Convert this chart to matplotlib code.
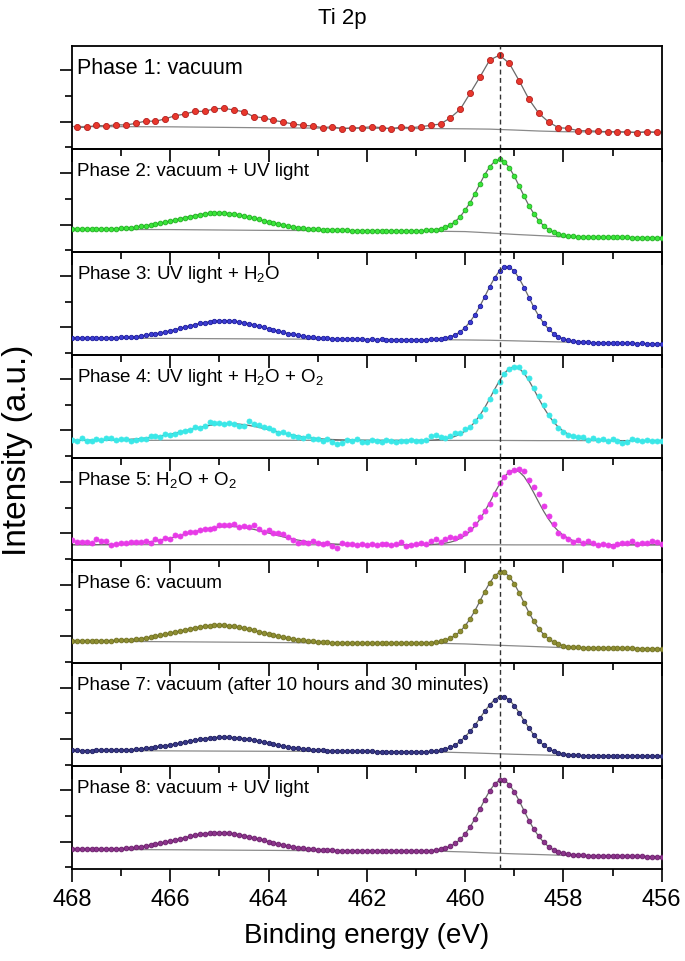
import numpy as np
import matplotlib
matplotlib.use("Agg")
import matplotlib.pyplot as plt
from matplotlib.ticker import MultipleLocator

plt.rcParams['font.family'] = ['Liberation Sans', 'DejaVu Sans']
plt.rcParams['mathtext.default'] = 'regular'

# ---------------- data (intensity in arbitrary units) ----------------
# Phase 1 sampled every 0.2 eV from 467.9 eV; other phases every 0.1 eV from 468.0 eV
P1_START, P1_STEP = 467.9, 0.2
START, STEP = 468.0, 0.1

phase1 = [21.7, 21.7, 23.7, 23.0, 24.3, 24.0, 25.7, 28.0, 27.7, 30.3, 33.3, 35.0, 37.7, 37.7, 40.3,
          40.7, 39.0, 37.3, 32.3, 31.3, 28.7, 27.0, 25.0, 23.7, 23.0, 21.3, 22.3, 20.3, 21.0,
          21.3, 22.3, 21.3, 20.3, 22.0, 21.3, 22.3, 23.7, 25.0, 31.3, 39.7, 55.7, 72.0, 89.0, 94.0,
          85.7, 68.3, 49.7, 35.7, 27.0, 21.3, 20.7, 18.3, 18.3, 17.7, 17.3, 17.3, 17.0, 16.3, 17.3, 16.7]

phase2 = [22.5, 22.5, 22.6, 22.6, 22.7, 22.7, 22.8, 22.9, 23.1, 23.3,
          23.6, 23.9, 24.3, 24.8, 25.4, 26.1, 26.9, 27.7, 28.7, 29.7,
          30.8, 32.0, 33.1, 34.3, 35.3, 36.4, 37.3, 38.0, 38.5, 38.8,
          38.9, 38.8, 38.3, 37.8, 36.9, 36.0, 34.9, 33.7, 32.5, 31.2,
          30.0, 28.9, 27.8, 26.8, 25.8, 25.0, 24.3, 23.7, 23.2, 22.8,
          22.4, 22.1, 21.9, 21.7, 21.6, 21.5, 21.4, 21.3, 21.3, 21.2,
          21.2, 21.2, 21.1, 21.1, 21.1, 21.1, 21.1, 21.0, 21.0, 21.0,
          21.0, 21.2, 21.4, 21.7, 22.2, 23.1, 24.7, 27.0, 30.4, 35.2,
          41.8, 49.2, 58.3, 68.0, 77.4, 85.2, 90.6, 92.5, 90.0, 84.2,
          75.8, 65.9, 55.7, 46.1, 38.1, 31.2, 26.1, 22.3, 19.6, 17.7,
          16.5, 15.9, 15.4, 15.2, 14.8, 14.8, 14.7, 14.7, 14.6, 14.6,
          14.5, 14.5, 14.4, 14.4, 14.3, 14.3, 14.2, 14.2, 14.1, 14.1,
          14.0]

phase3 = [16.7, 16.9, 16.6, 16.5, 16.9, 16.7, 16.6, 17.0, 16.9, 17.2,
          17.3, 17.4, 18.0, 18.2, 18.9, 19.3, 20.3, 20.8, 22.0, 22.8,
          24.2, 25.2, 26.6, 27.7, 29.1, 30.1, 31.4, 32.1, 33.1, 33.5,
          34.1, 34.0, 33.8, 33.6, 32.8, 32.2, 30.9, 30.0, 28.6, 27.6,
          26.0, 24.9, 23.5, 22.4, 21.2, 20.4, 19.4, 18.8, 17.9, 17.6,
          17.0, 16.7, 16.3, 16.2, 15.8, 15.7, 15.5, 15.7, 15.4, 15.4,
          15.2, 15.4, 15.1, 15.3, 15.2, 15.0, 15.2, 15.1, 15.0, 15.2,
          15.0, 15.1, 14.9, 15.4, 15.6, 16.1, 16.8, 18.1, 20.0, 23.0,
          27.2, 33.0, 40.0, 48.5, 58.2, 68.1, 77.0, 84.0, 88.0, 87.9,
          83.6, 76.4, 67.3, 57.3, 47.3, 38.6, 31.5, 25.5, 21.1, 18.0,
          15.9, 14.5, 13.7, 13.1, 12.7, 12.4, 12.0, 12.1, 11.8, 11.9,
          11.6, 11.8, 11.5, 11.4, 11.5, 11.2, 11.3, 11.0, 11.1, 10.9,
          10.8]

phase4 = [17.8, 16.5, 19.6, 17.0, 16.4, 18.6, 17.9, 19.3, 19.5, 17.6,
          19.0, 18.6, 16.8, 17.9, 18.4, 18.9, 21.8, 22.0, 20.9, 23.9,
          22.6, 23.7, 26.0, 26.2, 27.5, 30.4, 29.5, 32.0, 35.2, 34.3,
          34.8, 33.6, 34.5, 33.9, 31.8, 32.1, 36.8, 33.9, 32.7, 30.6,
          29.8, 27.2, 25.0, 25.6, 23.4, 21.3, 20.8, 19.6, 21.2, 18.3,
          18.8, 16.9, 18.2, 15.9, 14.0, 14.9, 17.4, 16.2, 18.5, 15.2,
          15.6, 17.2, 16.8, 15.4, 17.6, 16.9, 15.8, 17.1, 16.6, 17.9,
          16.2, 17.0, 18.1, 21.2, 22.6, 20.3, 19.6, 21.4, 24.5, 24.8,
          28.2, 31.0, 37.0, 41.6, 48.5, 58.2, 66.4, 75.5, 83.2, 88.6,
          90.8, 91.0, 85.6, 79.4, 70.1, 61.8, 52.5, 42.9, 36.2, 30.1,
          25.4, 22.3, 21.6, 20.9, 20.8, 17.6, 19.7, 18.0, 18.5, 17.1,
          18.2, 16.4, 14.3, 15.2, 18.9, 17.6, 16.2, 17.5, 16.4, 16.8,
          16.5]

fit4 = [17.3, 17.3, 17.3, 17.3, 17.3, 17.4, 17.45, 17.5, 17.6, 17.7,
        17.9, 18.1, 18.35, 18.7, 19.1, 19.6, 20.1, 20.8, 21.6, 22.5,
        23.5, 24.5, 25.7, 26.8, 28.0, 29.2, 30.3, 31.3, 32.2, 33.0,
        33.5, 33.9, 34.0, 33.9, 33.5, 33.0, 32.2, 31.3, 30.3, 29.2,
        28.0, 26.8, 25.7, 24.5, 23.5, 22.5, 21.6, 20.8, 20.1, 19.6,
        19.1, 18.7, 18.35, 18.1, 17.9, 17.7, 17.6, 17.5, 17.45, 17.4,
        17.3, 17.3, 17.2, 17.2, 17.2, 17.2, 17.2, 17.2, 17.2, 17.2,
        17.2, 17.2, 17.2, 17.4, 17.7, 18.2, 18.8, 19.8, 21.3, 23.5,
        26.5, 30.5, 35.7, 42.4, 50.1, 59.0, 68.3, 77.1, 84.5, 89.4,
        91.1, 89.3, 84.4, 77.0, 68.2, 58.9, 50.0, 42.3, 35.6, 30.4,
        26.4, 23.4, 21.2, 19.7, 18.7, 18.1, 17.6, 17.3, 17.1, 17.0,
        17.0, 17.0, 17.0, 17.0, 17.0, 17.0, 17.0, 17.0, 17.0, 17.0,
        17.0]

phase5 = [20.4, 18.0, 18.3, 18.1, 17.2, 21.3, 19.8, 19.5, 15.6, 16.9,
          17.2, 17.5, 18.6, 18.9, 18.4, 19.8, 17.6, 21.2, 19.4, 22.8,
          21.5, 25.3, 24.1, 27.4, 28.9, 28.3, 30.6, 31.8, 31.2, 32.7,
          35.9, 35.6, 35.4, 36.6, 33.8, 34.6, 33.1, 35.9, 31.5, 28.6,
          30.2, 27.9, 27.1, 26.3, 23.2, 20.6, 17.8, 18.2, 17.1, 19.5,
          17.6, 16.8, 17.0, 14.9, 12.4, 17.3, 16.5, 16.8, 15.9, 16.6,
          15.4, 16.1, 15.5, 16.8, 16.3, 15.0, 16.4, 18.1, 14.6, 15.3,
          16.7, 17.4, 16.2, 19.9, 21.6, 18.6, 21.5, 23.4, 22.1, 24.8,
          27.5, 31.6, 36.2, 43.8, 49.5, 56.4, 66.2, 77.8, 83.1, 88.3,
          90.8, 91.2, 89.6, 80.4, 73.2, 66.1, 54.3, 44.6, 36.9, 27.4,
          24.6, 21.8, 18.3, 20.7, 17.5, 19.8, 17.2, 15.6, 16.0, 15.4,
          14.5, 16.7, 17.8, 17.4, 19.1, 16.8, 17.9, 17.6, 19.6, 18.3,
          16.9]

fit5 = [15.7, 15.7, 15.7, 15.7, 15.7, 15.8, 15.9, 15.9, 16.0, 16.2,
        16.3, 16.6, 16.85, 17.2, 17.6, 18.2, 18.8, 19.6, 20.4, 21.4,
        22.45, 23.6, 24.85, 26.1, 27.4, 28.7, 30.0, 31.1, 32.1, 32.9,
        33.5, 33.9, 34.0, 33.9, 33.5, 32.9, 32.1, 31.1, 30.0, 28.7,
        27.4, 26.1, 24.85, 23.6, 22.45, 21.4, 20.4, 19.6, 18.8, 18.2,
        17.6, 17.2, 16.85, 16.6, 16.3, 16.2, 16.0, 15.9, 15.9, 15.8,
        15.7, 15.7, 15.7, 15.7, 15.7, 15.7, 15.7, 15.7, 15.7, 15.7,
        15.7, 15.7, 15.7, 15.9, 16.2, 16.7, 17.35, 18.3, 19.8, 22.1,
        25.1, 29.2, 34.45, 41.2, 49.1, 58.1, 67.5, 76.5, 84.0, 88.8,
        90.7, 88.8, 84.0, 76.5, 67.5, 58.1, 49.1, 41.2, 34.45, 29.2,
        25.1, 22.1, 19.8, 18.3, 17.35, 16.7, 16.2, 15.9, 15.7, 15.7,
        15.7, 15.7, 15.7, 15.7, 15.7, 15.7, 15.7, 15.7, 15.7, 15.7,
        15.7]

phase6 = [22.3, 22.3, 22.2, 22.3, 22.3, 22.4, 22.5, 22.5, 22.7, 22.9,
          23.1, 23.4, 23.7, 24.2, 24.7, 25.3, 26.1, 27.0, 27.9, 28.9,
          30.0, 31.1, 32.3, 33.4, 34.5, 35.5, 36.3, 37.1, 37.6, 37.9,
          38.0, 37.9, 37.4, 36.9, 36.0, 35.1, 34.0, 32.9, 31.7, 30.4,
          29.3, 28.0, 27.0, 25.9, 25.0, 24.1, 23.4, 22.9, 22.3, 21.9,
          21.5, 21.2, 20.9, 20.7, 20.6, 20.4, 20.3, 20.2, 20.1, 20.0,
          20.0, 20.1, 19.9, 20.0, 20.1, 20.0, 19.9, 20.0, 20.1, 20.0,
          20.0, 20.1, 20.4, 20.7, 21.2, 21.9, 23.2, 25.2, 27.9, 32.0,
          37.5, 44.4, 52.7, 62.2, 71.9, 80.6, 87.4, 91.3, 91.1, 86.8,
          79.7, 70.6, 60.5, 50.7, 42.0, 34.7, 28.8, 24.4, 21.3, 19.1,
          17.6, 16.8, 16.3, 15.9, 15.7, 15.4, 15.3, 15.3, 15.2, 15.2,
          15.1, 15.0, 15.0, 14.9, 14.9, 14.8, 14.7, 14.7, 14.6, 14.6,
          14.5]

phase7 = [15.7, 15.7, 15.6, 15.6, 15.6, 15.7, 15.7, 15.8, 15.9, 16.0,
          16.2, 16.3, 16.5, 16.9, 17.3, 17.8, 18.3, 18.9, 19.7, 20.5,
          21.4, 22.2, 23.2, 24.2, 25.2, 26.0, 26.9, 27.6, 28.3, 28.7,
          29.0, 29.0, 28.9, 28.6, 28.2, 27.5, 26.8, 25.9, 24.9, 23.9,
          22.9, 21.9, 21.0, 20.1, 19.3, 18.4, 17.8, 17.2, 16.7, 16.3,
          15.9, 15.7, 15.4, 15.2, 15.1, 15.0, 14.9, 14.8, 14.7, 14.7,
          14.7, 14.7, 14.6, 14.6, 14.6, 14.5, 14.5, 14.4, 14.4, 14.4,
          14.3, 14.4, 14.5, 14.7, 15.1, 15.9, 17.0, 18.8, 21.3, 24.9,
          29.5, 34.8, 41.0, 48.0, 55.1, 61.4, 66.7, 69.7, 69.6, 66.3,
          60.6, 53.6, 45.7, 38.0, 31.1, 25.5, 20.9, 17.5, 15.0, 13.3,
          12.2, 11.6, 11.1, 10.9, 10.6, 10.5, 10.5, 10.5, 10.4, 10.4,
          10.4, 10.3, 10.3, 10.2, 10.2, 10.2, 10.1, 10.1, 10.1, 10.0,
          10.0]

phase8 = [19.7, 19.7, 19.6, 19.7, 19.8, 19.8, 19.8, 20.0, 20.1, 20.3,
          20.5, 20.8, 21.2, 21.7, 22.2, 23.0, 23.8, 24.7, 25.6, 26.7,
          27.9, 29.1, 30.2, 31.4, 32.6, 33.6, 34.6, 35.3, 35.8, 36.2,
          36.3, 36.2, 35.7, 35.2, 34.4, 33.3, 32.3, 31.1, 29.8, 28.6,
          27.4, 26.1, 25.0, 24.0, 23.0, 22.2, 21.4, 20.7, 20.2, 19.8,
          19.4, 19.1, 18.9, 18.7, 18.5, 18.4, 18.3, 18.2, 18.1, 18.0,
          18.0, 18.0, 18.0, 17.9, 17.9, 17.9, 17.9, 17.9, 17.8, 17.8,
          17.8, 17.8, 18.2, 18.4, 18.9, 19.6, 20.9, 22.9, 25.6, 29.7,
          35.2, 42.1, 50.4, 59.9, 69.6, 78.3, 85.1, 89.0, 88.8, 84.6,
          77.4, 68.4, 58.3, 48.5, 39.8, 32.6, 26.7, 22.3, 19.2, 17.1,
          15.6, 14.8, 14.3, 13.9, 13.6, 13.4, 13.3, 13.2, 13.1, 13.1,
          13.0, 12.9, 12.9, 12.8, 12.7, 12.6, 12.6, 12.5, 12.4, 12.4,
          12.3]

# Shirley-type backgrounds
bg_energy = [468, 466, 464, 462, 460.5, 460, 459.5, 459, 458.5, 458, 457, 456]
bg1 = [22.5, 22.2, 21.2, 20.7, 20.4, 20.2, 19.9, 19.0, 18.0, 17.3, 17.0, 16.7]
bg2 = [22.5, 22.3, 21.5, 21.2, 20.6, 20.3, 19.0, 17.5, 16.3, 15.0, 14.5, 14.0]
bg3 = [16.7, 16.3, 15.8, 15.3, 15.0, 14.8, 14.5, 13.9, 13.3, 12.7, 11.7, 10.8]
bg4 = [17.3, 17.3, 17.3, 17.3, 17.2, 17.2, 17.2, 17.1, 17.0, 17.0, 17.0, 17.0]
bg5 = [15.8, 15.8, 15.7, 15.7, 15.7, 15.7, 15.7, 15.6, 15.6, 15.6, 15.6, 15.6]
bg6 = [22.3, 21.6, 20.9, 20.0, 20.0, 19.4, 18.4, 17.5, 16.6, 15.7, 15.1, 14.5]
bg7 = [15.7, 15.3, 14.9, 14.7, 14.1, 13.5, 12.7, 11.9, 11.3, 10.7, 10.35, 10.0]
bg8 = [19.7, 19.3, 18.7, 18.0, 17.8, 17.1, 16.1, 15.2, 14.5, 13.7, 13.0, 12.3]

labels = ["Phase 1: vacuum",
          "Phase 2: vacuum + UV light",
          "Phase 3: UV light + H$_2$O",
          "Phase 4: UV light + H$_2$O + O$_2$",
          "Phase 5: H$_2$O + O$_2$",
          "Phase 6: vacuum",
          "Phase 7: vacuum (after 10 hours and 30 minutes)",
          "Phase 8: vacuum + UV light"]

REF_ENERGY = 459.3
xticks_major = [468, 466, 464, 462, 460, 458, 456]

# ---------------- styling ----------------
face = ['#e8382c', '#3ae63a', '#3c3cd2', '#3ae8e8', '#e83ae8', '#8e8e32', '#383888', '#8c348c']
edge = ['#b41e1e', '#20b020', '#1c1c9e', '#3ae8e8', '#e83ae8', '#70701e', '#1e1e60', '#6a1c6a']
msize = [4.4, 3.4, 3.2, 3.6, 3.6, 3.4, 3.2, 3.4]

datasets = [phase1, phase2, phase3, phase4, phase5, phase6, phase7, phase8]
fits = [None, None, None, fit4, fit5, None, None, None]
bgs = [bg1, bg2, bg3, bg4, bg5, bg6, bg7, bg8]

fig = plt.figure(figsize=(6.85, 9.62), dpi=100)
axes = fig.subplots(8, 1, sharex=True,
                    gridspec_kw=dict(hspace=0, left=0.105, right=0.966, top=0.951, bottom=0.0956))

for i, ax in enumerate(axes):
    ax.patch.set_visible(False)
    vals = np.array(datasets[i])
    if i == 0:
        x = P1_START - P1_STEP * np.arange(len(vals))
    else:
        x = START - STEP * np.arange(len(vals))
    ax.plot(bg_energy, bgs[i], color='#8a8a8a', lw=0.9, zorder=2)
    if fits[i] is not None:
        ax.plot(x, fits[i], color='#6a6a6a', lw=0.9, zorder=2)
    else:
        ax.plot(x, vals, color='#6a6a6a', lw=0.9, zorder=2)
    ax.plot(x, vals, ls='none', marker='o', ms=msize[i], mfc=face[i], mec=edge[i], mew=0.6, zorder=3)
    ax.axvline(REF_ENERGY, color='#333333', lw=1.0, ls=(0, (3.5, 2.5)), zorder=4)
    ax.set_xlim(468, 456)
    ax.set_ylim(0, 103)
    ax.set_xticks(xticks_major)
    ax.xaxis.set_minor_locator(MultipleLocator(1))
    ax.set_yticks([27.3, 78.7])
    ax.set_yticks([1.6, 53.0], minor=True)
    ax.tick_params(axis='both', which='major', direction='out', length=9, width=1.2)
    ax.tick_params(axis='both', which='minor', direction='out', length=5, width=1.2)
    ax.tick_params(axis='y', which='both', labelleft=False)
    ax.tick_params(axis='x', which='both', labelbottom=(i == 7), labelsize=17, pad=5)
    for s in ax.spines.values():
        s.set_linewidth(1.3)
    fs = 15.5 if i == 0 else 13.5
    ax.text(0.008, 0.79, labels[i], transform=ax.transAxes, fontsize=fs, va='center', ha='left')

axes[-1].set_xlabel("Binding energy (eV)", fontsize=20, labelpad=8)
fig.text(0.026, 0.532, "Intensity (a.u.)", rotation=90, fontsize=24, va='center', ha='center')
fig.text(0.5, 0.981, "Ti 2p", fontsize=16, ha='center', va='center')

fig.savefig("out.png", dpi=100)
